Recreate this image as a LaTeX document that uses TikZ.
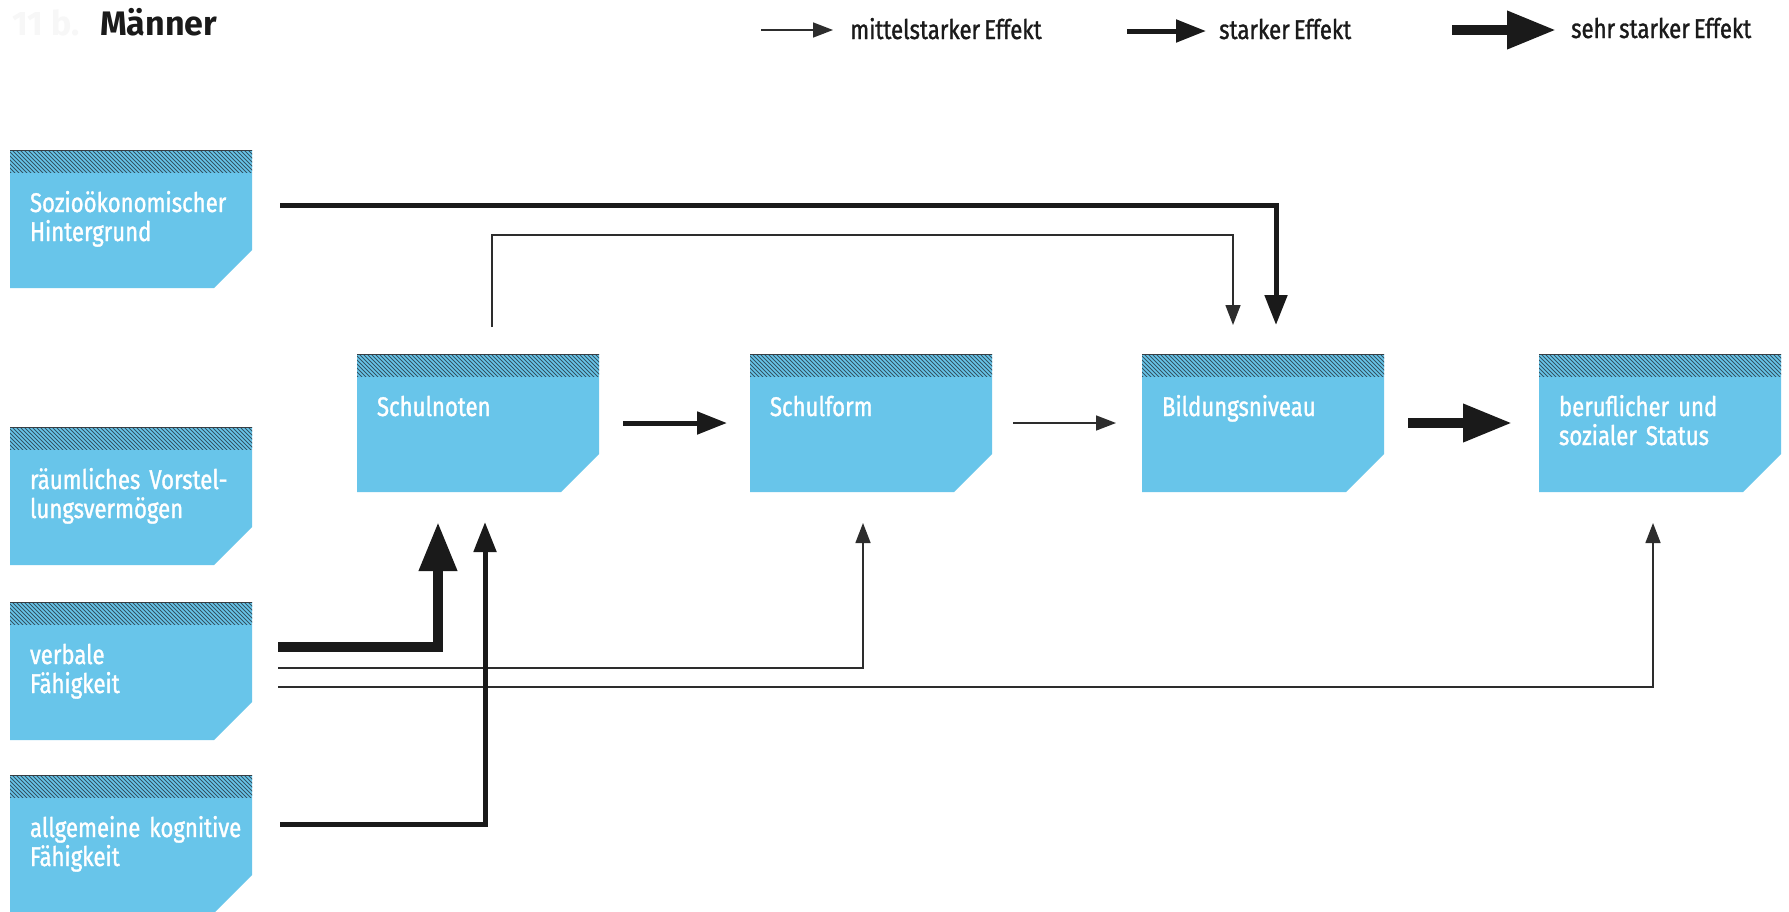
\documentclass[tikz,border=0pt]{standalone}
\usepackage{fontspec}
\usetikzlibrary{arrows.meta,calc}
\newfontfamily\boxfont{Fira Sans}[FakeStretch=0.82, FakeBold=1.2, WordSpace=0.7]
\newfontfamily\titlefont{Fira Sans}
\definecolor{boxblue}{RGB}{104,197,234}
\definecolor{hatchcol}{RGB}{52,84,100}
\definecolor{edgecol}{RGB}{55,62,68}
\definecolor{ink}{RGB}{26,26,26}
\definecolor{thincol}{RGB}{45,45,45}
\begin{document}
\begin{tikzpicture}[x=1bp,y=-1bp,
  factor/.style={anchor=north west, inner ysep=0pt, inner xsep=20bp, outer sep=0pt,
    text width=202bp, text height=62bp, text depth=76bp, align=left, text=white,
    font=\boxfont\fontsize{27bp}{29bp}\selectfont,
    path picture={
      \fill[boxblue] (path picture bounding box.north west) -- (path picture bounding box.north east)
        -- ([yshift=38bp]path picture bounding box.south east)
        -- ([xshift=-38bp]path picture bounding box.south east)
        -- (path picture bounding box.south west) -- cycle;
      \begin{scope}
        \clip (path picture bounding box.north west) rectangle ([yshift=-22bp]path picture bounding box.north east);
        \foreach \k in {0,4,...,280}
          \draw[hatchcol, line width=0.9bp] ([xshift={(\k-30)*1bp}]path picture bounding box.north west) -- ++(30bp,-30bp);
      \end{scope}
      \draw[edgecol, line width=2.5bp] (path picture bounding box.north west) -- (path picture bounding box.north east);
    }},
  legtext/.style={anchor=base west, inner sep=0pt, text=ink, font=\boxfont\fontsize{27bp}{29bp}\selectfont},
  thinfx/.style={draw=thincol, line width=1.5bp, -{Triangle[length=20bp,width=15bp]}},
  strongfx/.style={draw=ink, line width=5bp, -{Triangle[length=30bp,width=22bp]}},
  vstrongfx/.style={draw=ink, line width=10bp, -{Triangle[length=49bp,width=36bp]}}
]
\useasboundingbox (0,0) rectangle (1789,911);
\fill[white] (0,0) rectangle (1789,911);

% heading
\node[anchor=base west, inner sep=0pt, text=black!3, font=\titlefont\bfseries\fontsize{34bp}{38bp}\selectfont] (num) at (12,35) {11 b.};
\node[anchor=base west, inner sep=0pt, text=ink, font=\titlefont\bfseries\fontsize{34bp}{38bp}\selectfont] (ttl) at (100,35) {Männer};

% legend
\coordinate (l1a) at (761,30); \coordinate (l1b) at (833,30);
\draw[thinfx] (l1a) -- (l1b);
\node[legtext] (l1t) at (850,39) {mittelstarker Effekt};
\coordinate (l2a) at (1127,31); \coordinate (l2b) at (1206,31);
\draw[strongfx] (l2a) -- (l2b);
\node[legtext] (l2t) at (1219,39) {starker Effekt};
\coordinate (l3a) at (1452,30); \coordinate (l3b) at (1556,30);
\draw[vstrongfx] (l3a) -- (l3b);
\node[legtext] (l3t) at (1571,38) {sehr starker Effekt};

% factor boxes
\node[factor] (soz) at (10,150) {Sozioökonomischer\\Hintergrund};
\node[factor] (raum) at (10,427) {\mbox{räumliches Vorstel-}\\lungsvermögen};
\node[factor] (verb) at (10,602) {verbale\\Fähigkeit};
\node[factor] (allg) at (10,775) {\mbox{allgemeine kognitive}\\Fähigkeit};
\node[factor] (noten) at (357,354) {Schulnoten};
\node[factor] (form) at (750,354) {Schulform};
\node[factor] (bild) at (1142,354) {Bildungsniveau};
\node[factor] (beruf) at (1539,354) {\mbox{beruflicher und}\\\mbox{sozialer Status}};

% effects
\draw[thinfx] ($(noten.north)+(14,-27)$) -- ++(0,-92) -| ($(bild.north)+(-30,-29)$);
\draw[strongfx] ($(soz.east)+(28,-14)$) -| ($(bild.north)+(13,-29)$);
\draw[strongfx] ($(noten.east)+(24,0)$) -- ($(form.west)+(-23,0)$);
\draw[thinfx] ($(form.east)+(21,0)$) -- ($(bild.west)+(-26,0)$);
\draw[vstrongfx] ($(bild.east)+(24,0)$) -- ($(beruf.west)+(-27,0)$);
\draw[thinfx] ($(verb.east)+(26,-3)$) -| ($(form.south)+(-8,31)$);
\draw[thinfx] ($(verb.east)+(26,16)$) -| ($(beruf.south)+(-7,31)$);
\draw[vstrongfx] ($(verb.east)+(26,-24)$) -| ($(noten.south)+(-40,30)$);
\draw[strongfx] ($(allg.east)+(28,-20)$) -| ($(noten.south)+(7,30)$);
\end{tikzpicture}
\end{document}
